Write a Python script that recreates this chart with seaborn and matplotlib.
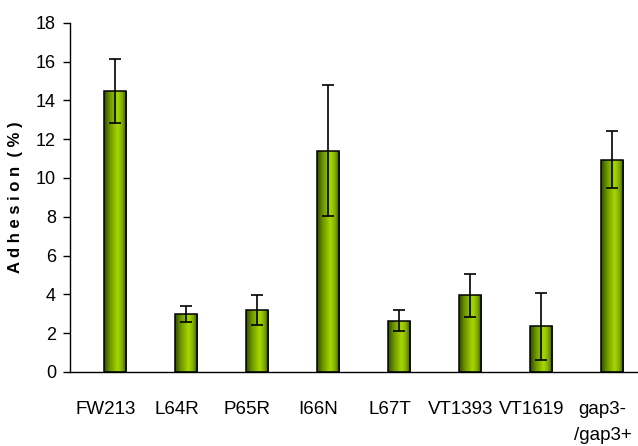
import numpy as np
import pandas as pd
import matplotlib
matplotlib.use("Agg")
import matplotlib.pyplot as plt
from matplotlib.colors import LinearSegmentedColormap
import seaborn as sns

categories = ["FW213", "L64R", "P65R", "I66N", "L67T", "VT1393", "VT1619", "gap3-\n/gap3+"]
adhesion = [14.5, 3.0, 3.2, 11.4, 2.65, 3.95, 2.35, 10.95]
errors = [1.65, 0.42, 0.76, 3.38, 0.56, 1.12, 1.72, 1.48]

sns.set_theme(style="white")
plt.rcParams['font.family'] = ['Liberation Sans', 'DejaVu Sans']

fig = plt.figure(figsize=(6.38, 4.46), dpi=100)
ax = fig.add_axes([0.1097, 0.166, 0.8903, 0.783])

df = pd.DataFrame({"strain": categories, "adhesion": adhesion})
sns.barplot(data=df, x="strain", y="adhesion", ax=ax, color="#8cbf00",
            width=0.31, edgecolor="black", linewidth=1.1, errorbar=None)

offset = 0.135
cmap = LinearSegmentedColormap.from_list(
    "cyl", [(0.0, "#344800"), (0.25, "#6a9400"), (0.6, "#a8d800"),
            (0.8, "#7fab00"), (1.0, "#344800")])
grad = np.linspace(0, 1, 256).reshape(1, -1)
centers = []
for p in ax.patches:
    p.set_x(p.get_x() + offset)
    x0, w, h = p.get_x(), p.get_width(), p.get_height()
    centers.append(x0 + w / 2)
    im = ax.imshow(grad, cmap=cmap, aspect="auto", extent=[x0, x0 + w, 0, h],
                   zorder=p.get_zorder() - 0.1, interpolation="bilinear")
    im.set_clip_path(p)
    p.set_facecolor("none")
    p.set_zorder(3)

ax.errorbar(centers, adhesion, yerr=errors, fmt="none", ecolor="black",
            elinewidth=1.2, capsize=4.3, capthick=1.2, zorder=4)

ax.set_xlim(-0.5, len(categories) - 0.5)
ax.set_ylim(0, 18)
ax.set_yticks(np.arange(0, 19, 2))
ax.set_xticks(np.arange(-0.5, len(categories), 1.0), minor=True)
ax.tick_params(axis="x", which="major", length=0, pad=21, labelsize=13.5, colors="black")
for t in ax.get_xticklabels():
    t.set_linespacing(1.7)
ax.tick_params(axis="x", which="minor", length=6, width=1, color="black", direction="out")
ax.tick_params(axis="y", which="major", length=5, width=1, color="black", direction="out",
               labelsize=13, labelcolor="black", left=True, pad=5)
ax.set_xlabel("")
ax.set_ylabel("A d h e s i o n  ( % )", fontsize=12, fontweight="bold", labelpad=9, color="black")
for s in ["top", "right"]:
    ax.spines[s].set_visible(False)
for s in ["left", "bottom"]:
    ax.spines[s].set_color("black")
    ax.spines[s].set_linewidth(1.0)

fig.savefig("out.png", dpi=100)
